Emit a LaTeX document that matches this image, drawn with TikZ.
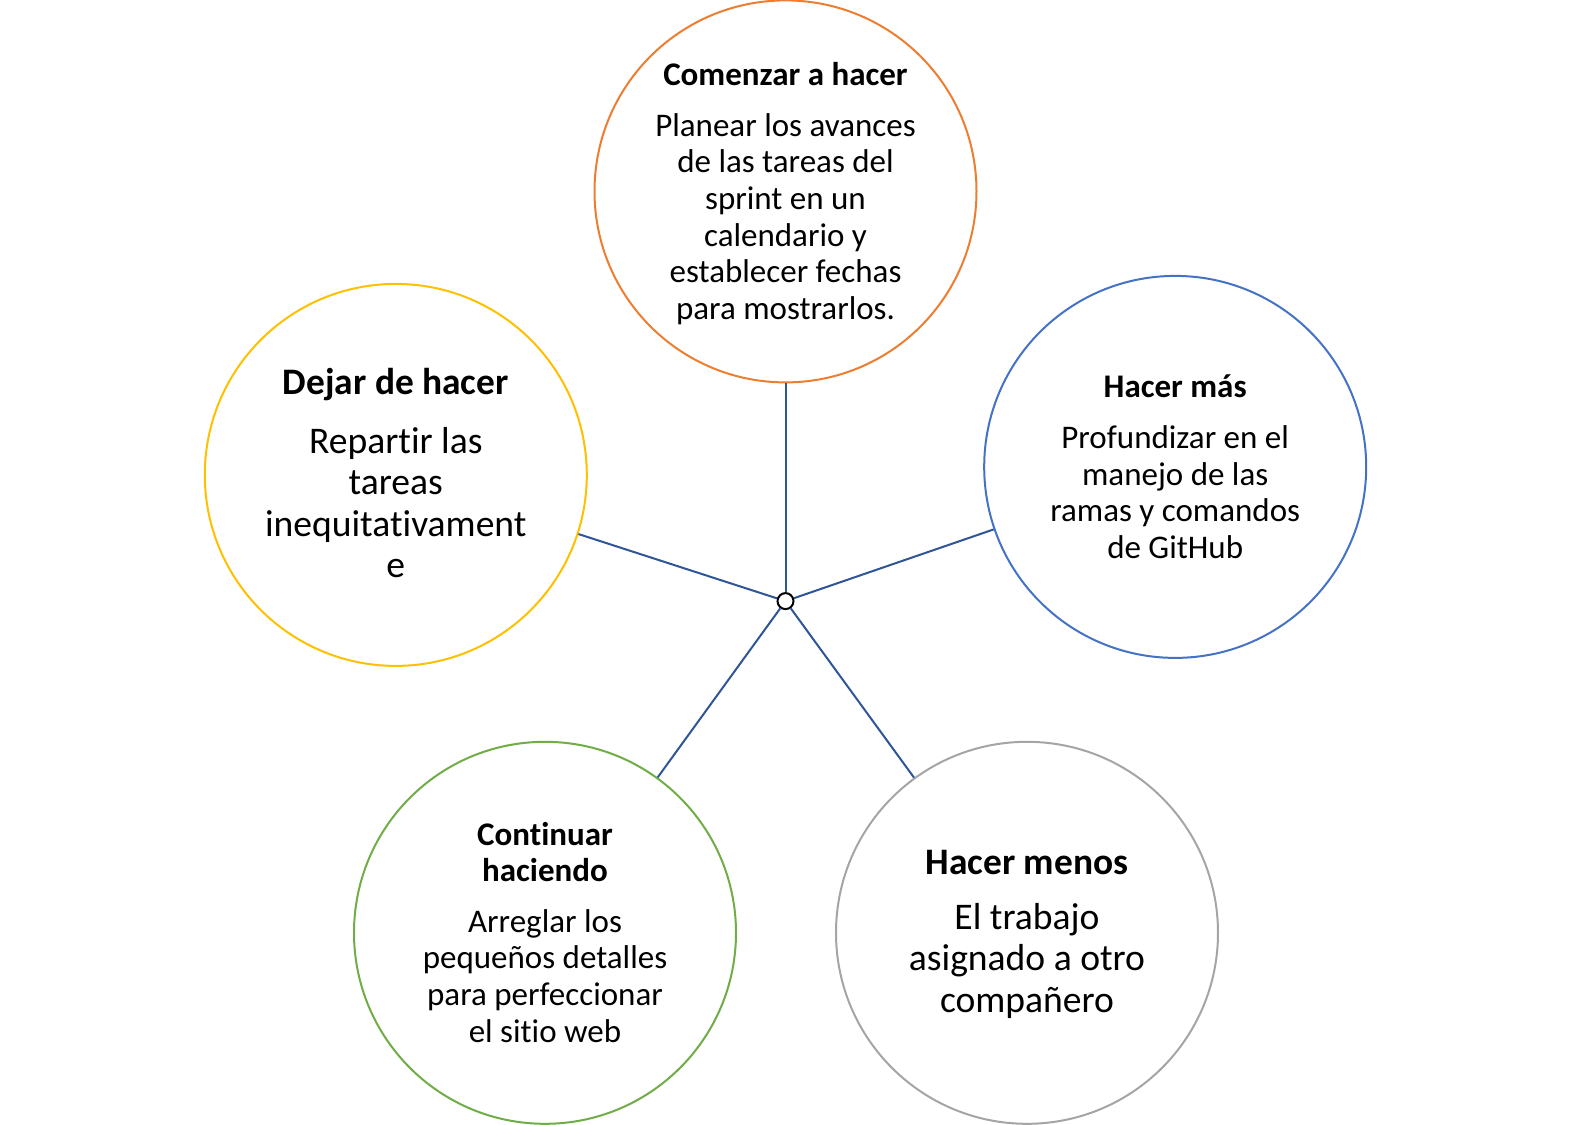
\documentclass[tikz,border=0pt]{standalone}
\usepackage{fontspec}
\setmainfont{Carlito}[RawFeature={-liga}]
\definecolor{corange}{HTML}{ED7D31}
\definecolor{cblue}{HTML}{4472C4}
\definecolor{cyellow}{HTML}{FFC000}
\definecolor{cgreen}{HTML}{70AD47}
\definecolor{cgray}{HTML}{A5A5A5}
\definecolor{cline}{HTML}{2F5597}
\tikzset{
  bubble/.style={circle, draw, line width=1pt, fill=white, minimum size=191pt, inner sep=0pt},
  conn/.style={draw=cline, line width=1pt},
  hubst/.style={circle, draw=black, fill=white, line width=1pt, minimum size=8pt, inner sep=0pt},
  smallt/.style={align=center, inner sep=0pt, font=\fontsize{16.5pt}{18.3pt}\selectfont},
  smallh/.style={align=center, inner sep=0pt, font=\fontsize{16.5pt}{18pt}\selectfont\bfseries},
  bigt/.style={align=center, inner sep=0pt, font=\fontsize{18.8pt}{20.8pt}\selectfont},
  bigh/.style={align=center, inner sep=0pt, font=\fontsize{18.7pt}{20.8pt}\selectfont\bfseries},
}
\begin{document}
\begin{tikzpicture}[x=0.5pt,y=-0.5pt]
\useasboundingbox (0,0) rectangle (1571,1125);
\node[bubble, draw=corange] (top) at (785.5,191.4) {};
\node[bubble, draw=cblue] (right) at (1175.2,466.9) {};
\node[bubble, draw=cyellow] (left) at (395.8,474.9) {};
\node[bubble, draw=cgreen] (bl) at (545,932.8) {};
\node[bubble, draw=cgray] (br) at (1027,932.8) {};
\node[hubst] (hub) at (785.5,601.1) {};
\draw[conn] (hub) -- (top);
\draw[conn] (hub) -- (right);
\draw[conn] (hub) -- (left);
\draw[conn] (hub) -- (bl);
\draw[conn] (hub) -- (br);
% texts
\node[smallh] (toph) at (785.5,74.5) {Comenzar a hacer};
\node[smallt] (topt) at (785.5,219) {Planear los avances\\de las tareas del\\sprint en un\\calendario y\\establecer fechas\\para mostrarlos.};
\node[smallh] (righth) at (1175.2,385.8) {Hacer más};
\node[smallt] (rightt) at (1175.2,492) {Profundizar en el\\manejo de las\\ramas y comandos\\de GitHub};
\node[bigh] (lefth) at (395.8,384.5) {Dejar de hacer};
\node[bigt] (leftt) at (395.8,502.5) {Repartir las\\tareas\\inequitativament\\e};
\node[smallh] (blh) at (545,851.6) {Continuar\\haciendo};
\node[smallt] (blt) at (545,975.9) {Arreglar los\\pequeños detalles\\para perfeccionar\\el sitio web};
\node[bigh] (brh) at (1027,862.6) {Hacer menos};
\node[bigt] (brt) at (1027,960.8) {El trabajo\\asignado a otro\\compañero};
\end{tikzpicture}
\end{document}
